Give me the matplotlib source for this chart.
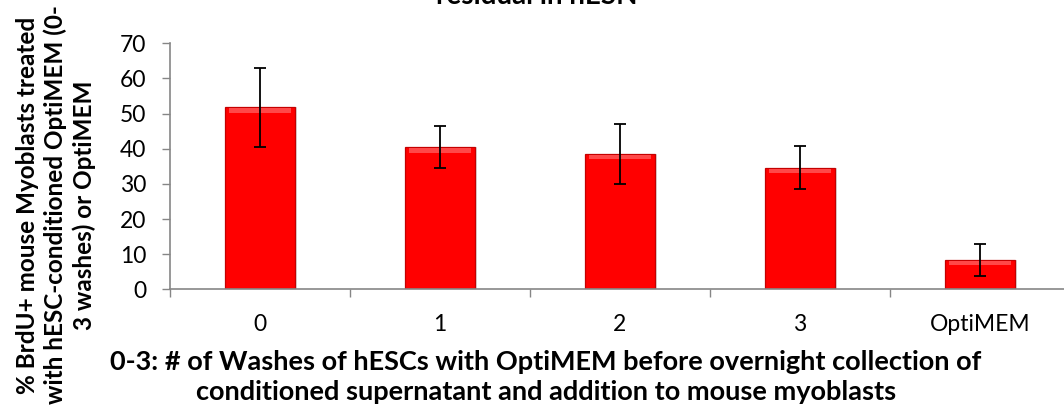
import matplotlib
matplotlib.use("Agg")
import matplotlib.pyplot as plt
import numpy as np

# Data
categories = ["0", "1", "2", "3", "OptiMEM"]
brdu_pct = [51.8, 40.4, 38.5, 34.6, 8.4]
brdu_err = [11.3, 6.0, 8.4, 6.2, 4.5]
yticks = [0, 10, 20, 30, 40, 50, 60, 70]

title_text = "residual in hESN"
ylabel_text = "% BrdU+ mouse Myoblasts treated\nwith hESC-conditioned OptiMEM (0-\n3 washes) or OptiMEM"
xlabel_text = ("0-3: # of Washes of hESCs with OptiMEM before overnight collection of\n"
               "conditioned supernatant and addition to mouse myoblasts")

plt.rcParams["font.family"] = ["Lato", "DejaVu Sans"]

W, H = 1064, 409
fig = plt.figure(figsize=(W / 100, H / 100), dpi=100)
fig.patch.set_facecolor("white")

# axes box: x from 170px to 1070px (right end runs off the canvas), y 0..70 from 289px to 43px
ax = fig.add_axes([170 / W, (H - 289.3) / H, 900 / W, 246 / H])

x = np.arange(len(categories))
bw = 0.39

# soft drop shadow
ax.bar(x + 0.012, brdu_pct, width=bw, color="#dcdcdc", zorder=1)
# main bars
ax.bar(x, brdu_pct, width=bw, color="#ff0000", edgecolor="#c40000",
       linewidth=0.9, zorder=2)
# bevel highlight along the top of each bar
ax.bar(x, [1.2] * len(x), bottom=np.array(brdu_pct) - 1.5, width=bw * 0.88,
       color="#ff4848", linewidth=0, zorder=3)

ax.errorbar(x, brdu_pct, yerr=brdu_err, fmt="none", ecolor="black",
            elinewidth=1.3, capsize=4.3, capthick=1.3, zorder=4)

ax.set_xlim(-0.5, 4.5)
ax.set_ylim(0, 70)
ax.set_yticks(yticks)
ax.set_yticklabels([str(v) for v in yticks], fontsize=16.5)

ax.set_xticks(x)
ax.set_xticklabels(categories, fontsize=16.5)
ax.set_xticks(np.arange(-0.5, 5.0, 1.0), minor=True)
ax.tick_params(axis="x", which="major", length=0, pad=18, colors="black")
ax.tick_params(axis="x", which="minor", length=5.5, width=1, color="#868686",
               direction="out")
ax.tick_params(axis="y", length=6, width=1, color="#868686", pad=11)

for side in ("top", "right"):
    ax.spines[side].set_visible(False)
for side in ("left", "bottom"):
    ax.spines[side].set_color("#868686")
    ax.spines[side].set_linewidth(1.2)

fig.text(546 / W, 1 - 377 / H, xlabel_text, ha="center", va="center",
         fontsize=19.5, fontweight="bold", linespacing=1.3)
fig.text(56 / W, 1 - 205 / H, ylabel_text, ha="center", va="center",
         rotation=90, fontsize=17.5, fontweight="bold", linespacing=1.25,
         multialignment="center")
fig.text(537 / W, 1 - 3.5 / H, title_text, ha="center", va="baseline",
         fontsize=20, fontweight="bold")

fig.savefig("out.png", dpi=100, facecolor="white")
